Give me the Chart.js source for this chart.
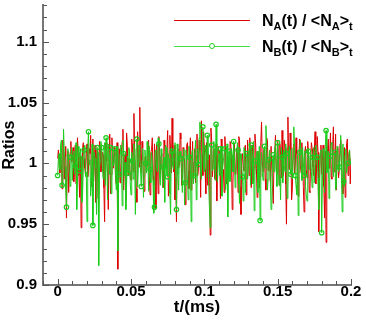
<!DOCTYPE html>
<html>
<head>
<meta charset="utf-8">
<script src="https://cdn.jsdelivr.net/npm/chart.js@4/dist/chart.umd.min.js"></script>
<style>
  html, body { margin: 0; padding: 0; background: #fff; }
  #wrap { position: relative; width: 366px; height: 320px; }
  .key-line { position: absolute; left: 174px; width: 76px; height: 0; }
  .key-dot { position: absolute; width: 4px; height: 4px; border-radius: 50%; background: #fff; }
  .key-text {
    position: absolute; left: 262px; font: bold 16px "Liberation Sans", Arial, sans-serif;
    line-height: 16px; color: #000; white-space: nowrap;
  }
  .key-text sub { font-size: 11px; vertical-align: -4px; line-height: 0; }
</style>
</head>
<body>
<div id="wrap">
  <canvas id="ratioChart" width="366" height="320"></canvas>
  <div class="key-line" style="top:19.5px; border-top:1px solid #dd0000;"></div>
  <div class="key-text" style="top:13px;">N<sub>A</sub>(t) / &lt;N<sub>A</sub>&gt;<sub>t</sub></div>
  <div class="key-line" style="top:45.5px; border-top:1px solid #44dd44;"></div>
  <div class="key-dot" style="left:209px; top:43px; border:1.2px solid #22cc22;"></div>
  <div class="key-text" style="top:39px;">N<sub>B</sub>(t) / &lt;N<sub>B</sub>&gt;<sub>t</sub></div>
</div>
<script>
// sample times (ms), one every 0.0005
const dt = 0.0005;
const times = Array.from({ length: 401 }, (_, i) => +(i * dt).toFixed(4));

// N_A(t) / <N_A>_t
const ratioA = [
  1.004, 1.011, 0.998, 0.992, 1.008, 1.003, 0.979, 1.019, 1.012, 0.987, 1.006, 1.014, 0.955, 0.998, 1.010, 0.976, 0.993, 1.009, 1.018, 1.001,
  1.002, 1.013, 0.985, 0.994, 1.015, 0.983, 0.996, 1.021, 1.009, 0.990, 0.972, 1.006, 0.947, 0.978, 1.013, 1.017, 1.004, 0.996, 0.990, 1.008,
  1.016, 0.989, 0.995, 1.012, 1.008, 1.023, 0.981, 0.997, 1.020, 0.985, 1.001, 1.015, 0.968, 1.003, 1.011, 0.971, 0.987, 1.018, 1.014, 0.993,
  0.999, 1.009, 1.007, 0.980, 0.952, 1.016, 1.017, 1.002, 0.992, 0.962, 1.010, 1.024, 0.975, 0.991, 1.021, 1.007, 0.996, 1.013, 1.006, 0.986,
  0.983, 1.017, 0.913, 0.995, 1.012, 0.984, 0.994, 1.010, 1.018, 1.028, 0.978, 0.999, 1.008, 0.970, 1.025, 1.015, 0.990, 1.004, 1.003, 0.988,
  0.986, 1.020, 1.015, 0.993, 1.041, 1.011, 0.995, 0.979, 0.968, 1.026, 1.009, 0.997, 1.046, 1.008, 0.992, 1.018, 1.013, 0.986, 0.977, 1.005,
  1.006, 0.994, 0.998, 1.014, 1.019, 0.988, 0.974, 1.009, 1.011, 1.021, 0.989, 0.982, 1.016, 1.003, 0.963, 1.016, 1.004, 0.975, 1.022, 1.010,
  0.991, 1.006, 1.008, 0.985, 0.980, 1.019, 1.014, 0.998, 0.996, 1.012, 1.027, 0.973, 0.985, 1.023, 1.010, 0.992, 1.037, 1.004, 0.993, 1.015,
  0.970, 0.988, 0.952, 1.010, 1.012, 0.996, 0.999, 1.025, 1.020, 0.982, 0.987, 1.013, 1.006, 1.002, 0.966, 0.991, 1.015, 1.017, 0.994, 0.979,
  1.009, 1.021, 0.978, 0.997, 1.018, 0.985, 1.001, 1.012, 0.984, 1.006, 1.024, 0.990, 0.996, 1.019, 1.011, 0.972, 1.035, 1.008, 0.990, 1.026,
  1.014, 0.995, 0.975, 1.017, 1.008, 0.982, 0.993, 1.007, 0.941, 1.029, 1.019, 0.989, 1.002, 1.012, 0.987, 0.996, 1.016, 0.969, 0.998, 1.014,
  1.010, 1.003, 0.971, 1.020, 1.013, 0.991, 0.995, 0.976, 1.022, 1.011, 0.983, 1.000, 1.007, 0.987, 0.999, 1.018, 1.017, 1.005, 0.962, 0.984,
  1.005, 1.016, 0.991, 0.993, 1.012, 1.009, 0.976, 1.022, 1.019, 0.981, 0.958, 1.006, 1.008, 0.997, 0.994, 1.013, 1.015, 0.974, 0.986, 1.019,
  1.003, 0.990, 1.021, 1.008, 0.980, 1.015, 1.010, 0.985, 0.997, 1.024, 1.016, 0.996, 0.972, 1.010, 1.006, 0.980, 0.989, 1.017, 1.034, 1.002,
  0.993, 1.011, 1.012, 0.987, 0.978, 1.021, 1.019, 0.994, 1.001, 1.006, 0.985, 1.014, 1.014, 0.979, 0.967, 1.003, 1.009, 1.023, 0.996, 0.991,
  1.018, 1.008, 0.982, 1.016, 1.007, 0.988, 1.027, 1.001, 0.990, 1.019, 1.013, 0.983, 0.950, 1.012, 1.038, 0.997, 0.995, 1.025, 1.011, 0.970,
  0.979, 1.013, 1.016, 0.992, 0.998, 1.021, 1.008, 0.986, 0.973, 1.007, 1.020, 0.998, 0.992, 1.017, 1.005, 0.981, 0.960, 1.010, 1.014, 0.995,
  0.988, 1.018, 1.010, 0.977, 0.976, 1.004, 1.017, 1.012, 0.997, 0.990, 1.009, 1.026, 0.983, 0.996, 1.022, 1.009, 0.944, 0.985, 1.006, 1.015,
  0.991, 1.002, 1.015, 0.981, 0.955, 1.010, 0.935, 0.997, 1.012, 1.020, 0.996, 1.007, 1.025, 0.989, 0.987, 1.014, 1.030, 0.993, 1.001, 1.024,
  0.978, 1.009, 1.013, 0.988, 0.994, 1.016, 1.019, 1.001, 0.986, 0.975, 1.008, 1.013, 0.972, 0.994, 1.016, 1.020, 0.990, 1.006, 1.011, 0.983,
  1.004
];

// N_B(t) / <N_B>_t
const ratioB = [
  0.990, 1.004, 1.008, 0.995, 1.015, 1.019, 0.982, 0.988, 1.028, 1.010, 0.997, 0.979, 0.964, 1.007, 1.012, 1.000, 0.992, 0.981, 1.005, 1.013,
  0.986, 1.002, 1.010, 0.991, 0.998, 1.017, 0.962, 0.983, 1.014, 1.005, 0.994, 1.012, 1.006, 0.968, 0.975, 0.997, 1.011, 1.015, 0.989, 0.993,
  0.952, 1.011, 1.026, 0.999, 1.003, 0.973, 0.984, 1.016, 0.949, 0.987, 1.009, 1.004, 0.996, 0.958, 1.013, 1.009, 0.916, 0.994, 1.002, 1.018,
  1.013, 0.996, 0.987, 1.010, 1.017, 0.982, 1.021, 1.005, 0.970, 1.016, 1.006, 0.991, 1.013, 0.975, 0.985, 1.012, 0.998, 1.001, 1.012, 0.989,
  0.978, 1.014, 0.928, 0.985, 0.991, 1.008, 1.015, 0.997, 0.965, 1.019, 1.008, 0.990, 1.001, 0.962, 0.983, 1.006, 0.992, 1.013, 1.010, 0.983,
  0.974, 1.009, 1.002, 0.987, 1.016, 0.999, 0.958, 1.012, 1.020, 0.981, 0.995, 1.015, 1.007, 0.993, 0.981, 1.003, 1.012, 0.972, 0.990, 1.011,
  1.000, 0.992, 1.018, 1.006, 0.977, 1.014, 0.995, 0.984, 1.009, 1.001, 0.986, 0.959, 0.964, 1.010, 1.011, 0.996, 0.993, 1.021, 1.016, 0.988,
  0.982, 1.012, 1.006, 0.980, 0.997, 1.005, 0.968, 1.015, 1.013, 0.991, 0.989, 1.008, 1.004, 0.975, 0.958, 1.013, 1.010, 0.998, 0.995, 1.004,
  1.017, 0.990, 0.962, 1.016, 0.991, 0.978, 1.008, 1.010, 1.004, 0.995, 0.976, 1.003, 1.012, 0.966, 0.984, 1.011, 0.998, 0.987, 0.970, 1.014,
  1.005, 0.997, 0.952, 1.009, 1.011, 0.983, 0.990, 1.006, 1.019, 0.970, 0.979, 1.012, 0.999, 1.021, 1.034, 0.992, 0.987, 1.008, 1.030, 0.996,
  0.993, 1.015, 1.009, 0.988, 1.023, 1.003, 0.981, 0.963, 0.947, 1.010, 1.015, 0.994, 0.996, 1.018, 1.006, 0.986, 1.032, 1.007, 0.985, 1.000,
  1.008, 0.990, 1.012, 1.014, 0.973, 0.996, 1.002, 1.009, 1.012, 0.978, 0.988, 1.016, 0.956, 1.001, 1.010, 0.985, 0.994, 1.012, 1.007, 0.993,
  1.018, 1.006, 0.980, 0.991, 0.998, 1.017, 1.011, 0.983, 0.967, 1.008, 1.004, 0.997, 0.989, 0.969, 1.013, 1.011, 0.976, 1.002, 1.008, 0.987,
  0.995, 1.012, 1.016, 0.982, 1.015, 1.004, 0.983, 1.018, 0.961, 0.990, 1.002, 1.007, 1.010, 0.976, 0.992, 1.014, 0.953, 0.998, 1.009, 0.993,
  0.986, 1.009, 1.014, 0.996, 1.031, 1.016, 0.978, 0.987, 1.003, 1.011, 0.990, 0.962, 0.965, 1.004, 1.007, 0.993, 1.012, 1.015, 0.996, 0.981,
  1.017, 1.006, 0.982, 0.990, 0.970, 1.013, 1.005, 0.984, 1.011, 0.998, 0.993, 1.016, 1.008, 0.971, 0.979, 1.009, 1.014, 0.995, 0.991, 1.012,
  0.987, 1.003, 1.030, 1.014, 0.990, 0.982, 0.974, 1.007, 0.957, 0.991, 1.009, 1.019, 0.998, 0.986, 1.013, 1.001, 0.990, 1.010, 0.981, 0.974,
  0.969, 1.012, 1.010, 0.995, 1.006, 1.008, 0.993, 0.980, 1.005, 1.013, 0.984, 0.999, 1.015, 1.006, 1.005, 0.988, 0.962, 0.997, 1.008, 1.011,
  0.943, 0.984, 1.012, 1.005, 0.976, 1.015, 1.027, 0.992, 0.995, 1.010, 0.971, 0.987, 1.006, 1.017, 1.016, 0.996, 0.989, 1.004, 1.009, 0.978,
  0.980, 1.014, 1.013, 0.993, 0.997, 1.008, 1.023, 0.989, 0.960, 1.016, 0.985, 0.981, 1.007, 1.012, 0.992, 0.998, 1.000, 1.007, 1.011, 1.000,
  1.002
];

const xTickValues = [0, 0.05, 0.1, 0.15, 0.2];
const yTickValues = [0.9, 0.95, 1, 1.05, 1.1];

const FONT = '"Liberation Sans", Arial, sans-serif';
const AXIS_GRAY = '#777777';

// Tecplot style ticks pointing into the plot, majors + minors
const inwardTicks = {
    id: 'inwardTicks',
    afterDatasetsDraw(chart) {
        const { ctx, chartArea, scales } = chart;
        ctx.save();
        ctx.strokeStyle = '#555555';
        ctx.lineWidth = 1;
        ctx.beginPath();
        for (let i = -1; i <= 20; i++) {
            const px = Math.round(scales.x.getPixelForValue(i * 0.01)) + 0.5;
            const len = i % 5 === 0 ? 6 : 4;
            ctx.moveTo(px, chartArea.bottom);
            ctx.lineTo(px, chartArea.bottom - len);
        }
        for (let i = 90; i <= 113; i++) {
            const py = Math.round(scales.y.getPixelForValue(i / 100)) + 0.5;
            const len = i % 5 === 0 ? 6 : 4;
            ctx.moveTo(chartArea.left, py);
            ctx.lineTo(chartArea.left + len, py);
        }
        ctx.stroke();
        ctx.restore();
    }
};

const fmt = (v) => String(Number(v.toFixed(3)));

new Chart(document.getElementById('ratioChart'), {
    type: 'line',
    data: {
        datasets: [
            {
                label: 'N_B(t) / <N_B>_t',
                data: times.map((t, i) => ({ x: t, y: ratioB[i] })),
                borderColor: '#1ccc1c',
                borderWidth: 1,
                pointRadius: (c) => (c.dataIndex % 6 === 0 ? 2.2 : 0),
                pointBorderColor: '#1ccc1c',
                pointBackgroundColor: 'rgba(255,255,255,0)',
                pointBorderWidth: 1.2,
                tension: 0,
                order: 0
            },
            {
                label: 'N_A(t) / <N_A>_t',
                data: times.map((t, i) => ({ x: t, y: ratioA[i] })),
                borderColor: '#dd0000',
                borderWidth: 1,
                pointRadius: 0,
                tension: 0,
                order: 1
            }
        ]
    },
    options: {
        responsive: false,
        animation: false,
        devicePixelRatio: 1,
        events: [],
        layout: { padding: { top: 3, right: 15, left: 0, bottom: 0 } },
        plugins: {
            legend: { display: false },
            tooltip: { enabled: false }
        },
        scales: {
            x: {
                type: 'linear',
                min: -0.01,
                max: 0.2,
                afterBuildTicks: (scale) => { scale.ticks = xTickValues.map(v => ({ value: v })); },
                afterFit: (scale) => {
                    scale.height = 35;
                    scale.paddingLeft = 0;
                    scale.paddingRight = 0;
                },
                grid: { drawOnChartArea: false, drawTicks: false },
                border: { color: AXIS_GRAY, width: 2 },
                ticks: {
                    color: '#000',
                    font: { family: FONT, size: 15, weight: 'bold' },
                    padding: -2,
                    maxRotation: 0,
                    autoSkip: false,
                    callback: (v) => fmt(v)
                },
                title: {
                    display: true,
                    text: 't/(ms)',
                    color: '#000',
                    font: { family: FONT, size: 17, weight: 'bold' },
                    padding: { top: 0, bottom: 2 }
                }
            },
            y: {
                min: 0.9,
                max: 1.13,
                afterBuildTicks: (scale) => { scale.ticks = yTickValues.map(v => ({ value: v })); },
                afterFit: (scale) => {
                    scale.width = 43;
                    scale.paddingTop = 0;
                    scale.paddingBottom = 0;
                },
                grid: { drawOnChartArea: false, drawTicks: false },
                border: { color: AXIS_GRAY, width: 2 },
                ticks: {
                    color: '#000',
                    font: { family: FONT, size: 15, weight: 'bold' },
                    padding: 6,
                    autoSkip: false,
                    callback: (v) => fmt(v)
                },
                title: {
                    display: true,
                    text: 'Ratios',
                    color: '#000',
                    font: { family: FONT, size: 16, weight: 'bold' },
                    padding: { top: 0, bottom: 0 }
                }
            }
        }
    },
    plugins: [inwardTicks]
});
</script>
</body>
</html>
